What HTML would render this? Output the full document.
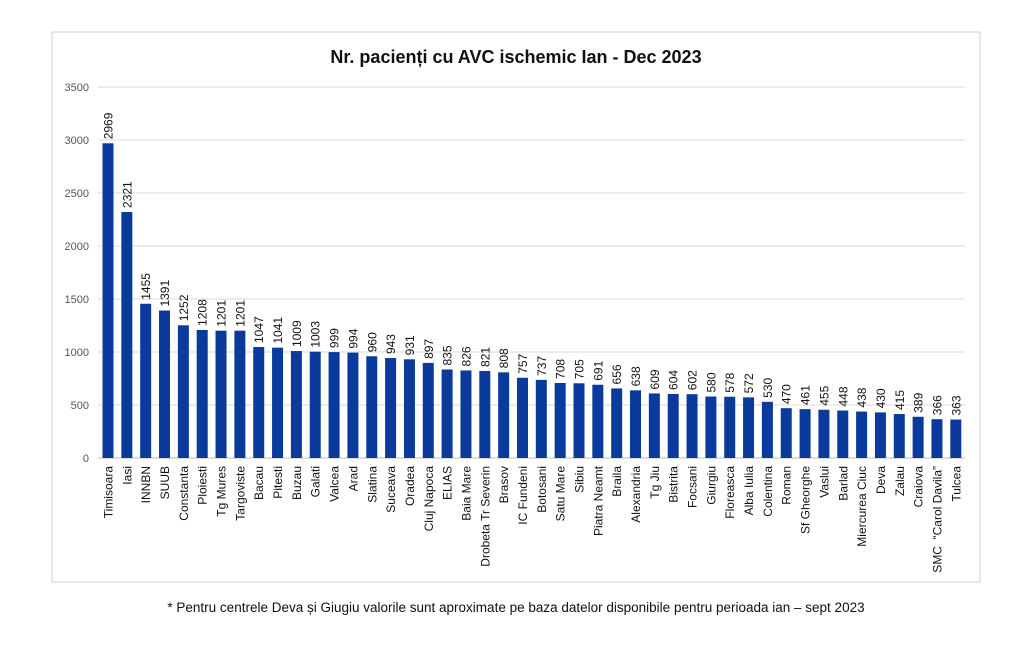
<!DOCTYPE html>
<html><head><meta charset="utf-8"><style>
body{margin:0;background:#fff;width:1024px;height:655px;overflow:hidden;font-family:"Liberation Sans",sans-serif}
</style></head><body>
<svg id="s" width="1024" height="655" xmlns="http://www.w3.org/2000/svg" font-family="Liberation Sans, sans-serif">
<rect x="52" y="32" width="928" height="550" fill="#fff" stroke="#d0d0d0" stroke-width="1"/>
<text x="516" y="63" text-anchor="middle" font-size="18" font-weight="bold" fill="#111">Nr. pacienți cu AVC ischemic Ian - Dec 2023</text>
<text x="516" y="612" text-anchor="middle" font-size="13.5" fill="#111">* Pentru centrele Deva și Giugiu valorile sunt aproximate pe baza datelor disponibile pentru perioada ian – sept 2023</text>
<g id="g"></g>
</svg>
<script>
(function(){
var names=["Timisoara","Iasi","INNBN","SUUB","Constanta","Ploiesti","Tg Mures","Targoviste","Bacau","Pitesti","Buzau","Galati","Valcea","Arad","Slatina","Suceava","Oradea","Cluj Napoca","ELIAS","Baia Mare","Drobeta Tr Severin","Brasov","IC Fundeni","Botosani","Satu Mare","Sibiu","Piatra Neamt","Braila","Alexandria","Tg Jiu","Bistrita","Focsani","Giurgiu","Floreasca","Alba Iulia","Colentina","Roman","Sf Gheorghe","Vaslui","Barlad","Miercurea Ciuc","Deva","Zalau","Craiova","SMC  \u201cCarol Davila\u201d","Tulcea"];
var vals=[2969,2321,1455,1391,1252,1208,1201,1201,1047,1041,1009,1003,999,994,960,943,931,897,835,826,821,808,757,737,708,705,691,656,638,609,604,602,580,578,572,530,470,461,455,448,438,430,415,389,366,363];
var h='';
for(var i=0;i<=7;i++){var y=458-i*53;h+='<line x1="98" x2="965" y1="'+y+'" y2="'+y+'" stroke="'+(i==0?'#bbb':'#d9d9d9')+'" stroke-width="1"/>';
h+='<text x="89" y="'+(y+4)+'" text-anchor="end" font-size="11" fill="#555">'+(i*500)+'</text>';}
for(var i=0;i<46;i++){var cx=108+i*18.84,v=vals[i],ty=458-v*0.106;
h+='<rect x="'+(cx-5.5)+'" y="'+ty+'" width="11" height="'+(458-ty)+'" fill="#0a3a9c"/>';
h+='<text transform="translate('+(cx+4.5)+','+(ty-4)+') rotate(-90)" font-size="12" fill="#111">'+v+'</text>';
h+='<text transform="translate('+(cx+4.5)+',466) rotate(-90)" text-anchor="end" font-size="12" fill="#111" xml:space="preserve">'+names[i]+'</text>';}
document.getElementById('g').innerHTML=h;
})();
</script>
</body></html>
